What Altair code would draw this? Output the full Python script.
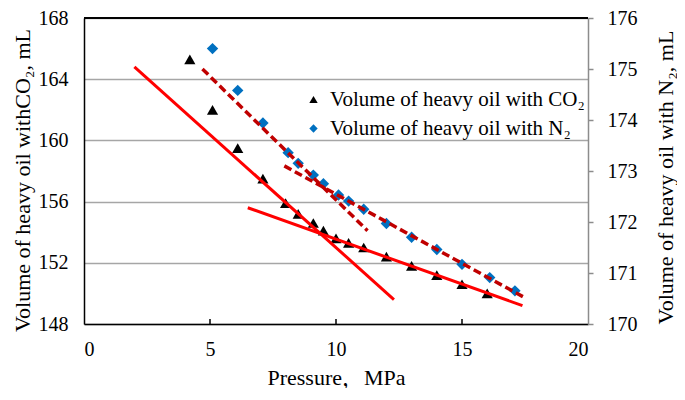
import altair as alt
import pandas as pd

# ---- data ----
pressure_co2 = [4.2, 5.1, 6.1, 7.1, 8.0, 8.5, 9.1, 9.5, 10.0, 10.5, 11.1, 12.0, 13.0, 14.0, 15.0, 16.0]
volume_co2 = [165.3, 162.0, 159.5, 157.5, 155.9, 155.2, 154.6, 154.1, 153.6, 153.3, 153.0, 152.4, 151.8, 151.2, 150.6, 150.0]

pressure_n2 = [5.1, 6.1, 7.1, 8.1, 8.5, 9.1, 9.5, 10.1, 10.5, 11.1, 12.0, 13.0, 14.0, 15.0, 16.1, 17.1]
volume_n2 = [175.40, 174.58, 173.94, 173.36, 173.15, 172.92, 172.75, 172.53, 172.41, 172.25, 171.97, 171.70, 171.46, 171.17, 170.91, 170.65]

# fitted trend lines (end points)
co2_fit_id = ["steep", "steep", "shallow", "shallow"]
co2_fit_x = [2.0, 12.3, 6.5, 17.4]
co2_fit_y = [164.8, 149.6, 155.6, 149.2]

n2_fit_id = ["steep", "steep", "shallow", "shallow"]
n2_fit_x = [4.7, 11.25, 7.95, 17.55]
n2_fit_y = [175.0, 171.83, 173.1, 170.5]

x_ticks = [0, 5, 10, 15, 20]
inner_ticks = [5, 10, 15]
left_ticks = [148, 152, 156, 160, 164, 168]
right_ticks = [170, 171, 172, 173, 174, 175, 176]

label_co2 = "Volume of heavy oil with CO₂"
label_n2 = "Volume of heavy oil with N₂"

W, H = 504, 306
FONT = "Liberation Serif"
FONT_CJK = "Liberation Serif, Noto Serif CJK SC, Noto Sans CJK SC"

df_co2 = pd.DataFrame({"p": pressure_co2, "v": volume_co2, "series": label_co2})
df_n2 = pd.DataFrame({"p": pressure_n2, "v": volume_n2, "series": label_n2})
df_co2_fit = pd.DataFrame({"p": co2_fit_x, "v": co2_fit_y, "id": co2_fit_id})
df_n2_fit = pd.DataFrame({"p": n2_fit_x, "v": n2_fit_y, "id": n2_fit_id})
df_ticks = pd.DataFrame({"p": inner_ticks})

text_style = dict(
    labelFont=FONT, labelFontSize=20, labelColor="black",
    titleFont=FONT, titleFontSize=22, titleColor="black", titleFontWeight="normal",
)

x_scale = alt.Scale(domain=[0, 20], nice=False)
x_axis = alt.Axis(
    values=x_ticks, grid=False, tickSize=0, labelPadding=15,
    domainColor="black", domainWidth=1.5,
    title="Pressure，MPa", titleY=53, titleBaseline="middle",
    **{**text_style, "titleFont": FONT_CJK},
)
color_scale = alt.Scale(domain=[label_co2, label_n2], range=["#000000", "#0070C0"])
shape_scale = alt.Scale(domain=[label_co2, label_n2], range=["triangle-up", "diamond"])
legend = alt.Legend(
    title=None, orient="none", legendX=219, legendY=71,
    labelFontSize=21, labelFont=FONT, labelColor="black", labelLimit=0,
    symbolSize=70, labelOffset=6, rowPadding=7, padding=0,
)

left_y_scale = alt.Scale(domain=[148, 168], nice=False)
left_axis = alt.Axis(
    values=left_ticks, tickSize=0, labelPadding=16,
    grid=True, gridColor="#a6a6a6", gridWidth=1.5,
    domainColor="black", domainWidth=1.5,
    title="Volume of heavy oil withCO₂, mL",
    titleAngle=270, titleX=-62, titleY=H / 2 + 9,
    titleAlign="center", titleBaseline="middle",
    **text_style,
)
right_y_scale = alt.Scale(domain=[170, 176], nice=False)
right_axis = alt.Axis(
    orient="right", values=right_ticks, grid=False,
    tickSize=5, tickColor="#8c8c8c", tickWidth=1.5, labelPadding=14,
    domainColor="#8c8c8c", domainWidth=1.5,
    title="Volume of heavy oil with  N₂, mL",
    titleAngle=270, titleX=77, titleY=H / 2 + 6,
    titleAlign="center", titleBaseline="middle",
    **text_style,
)

co2_points = alt.Chart(df_co2).mark_point(filled=True, opacity=1, size=125).encode(
    x=alt.X("p:Q", scale=x_scale, axis=x_axis),
    y=alt.Y("v:Q", scale=left_y_scale, axis=left_axis),
    color=alt.Color("series:N", scale=color_scale, legend=legend),
    shape=alt.Shape("series:N", scale=shape_scale, legend=legend),
)
co2_lines = alt.Chart(df_co2_fit).mark_line(color="#FF0000", strokeWidth=3).encode(
    x=alt.X("p:Q", scale=x_scale),
    y=alt.Y("v:Q", scale=left_y_scale),
    detail="id:N",
)
tick_marks = alt.Chart(df_ticks).mark_rule(color="black", strokeWidth=1.5).encode(
    x=alt.X("p:Q", scale=x_scale),
    y=alt.value(H - 5),
    y2=alt.value(H),
)
top_border = alt.Chart(df_ticks).mark_rule(color="black", strokeWidth=1.5).encode(
    x=alt.value(0), x2=alt.value(W), y=alt.value(0)
)
left_layer = alt.layer(co2_points, co2_lines, tick_marks, top_border)

n2_points = alt.Chart(df_n2).mark_point(filled=True, opacity=1, size=130).encode(
    x=alt.X("p:Q", scale=x_scale),
    y=alt.Y("v:Q", scale=right_y_scale, axis=right_axis),
    color=alt.Color("series:N", scale=color_scale, legend=legend),
    shape=alt.Shape("series:N", scale=shape_scale, legend=legend),
)
n2_lines = alt.Chart(df_n2_fit).mark_line(color="#C00000", strokeWidth=3.5, strokeDash=[8, 4]).encode(
    x=alt.X("p:Q", scale=x_scale),
    y=alt.Y("v:Q", scale=right_y_scale),
    detail="id:N",
)
right_layer = alt.layer(n2_points, n2_lines)

chart = (
    alt.layer(left_layer, right_layer)
    .resolve_scale(y="independent")
    .properties(
        width=W, height=H,
        autosize=alt.AutoSizeParams(type="none"),
        padding={"left": 76, "top": 10, "right": 89, "bottom": 64},
        background="white",
    )
    .configure(font=FONT)
    .configure_view(stroke=None)
)

chart.save("out.html", embed_options={"renderer": "svg", "actions": False})
